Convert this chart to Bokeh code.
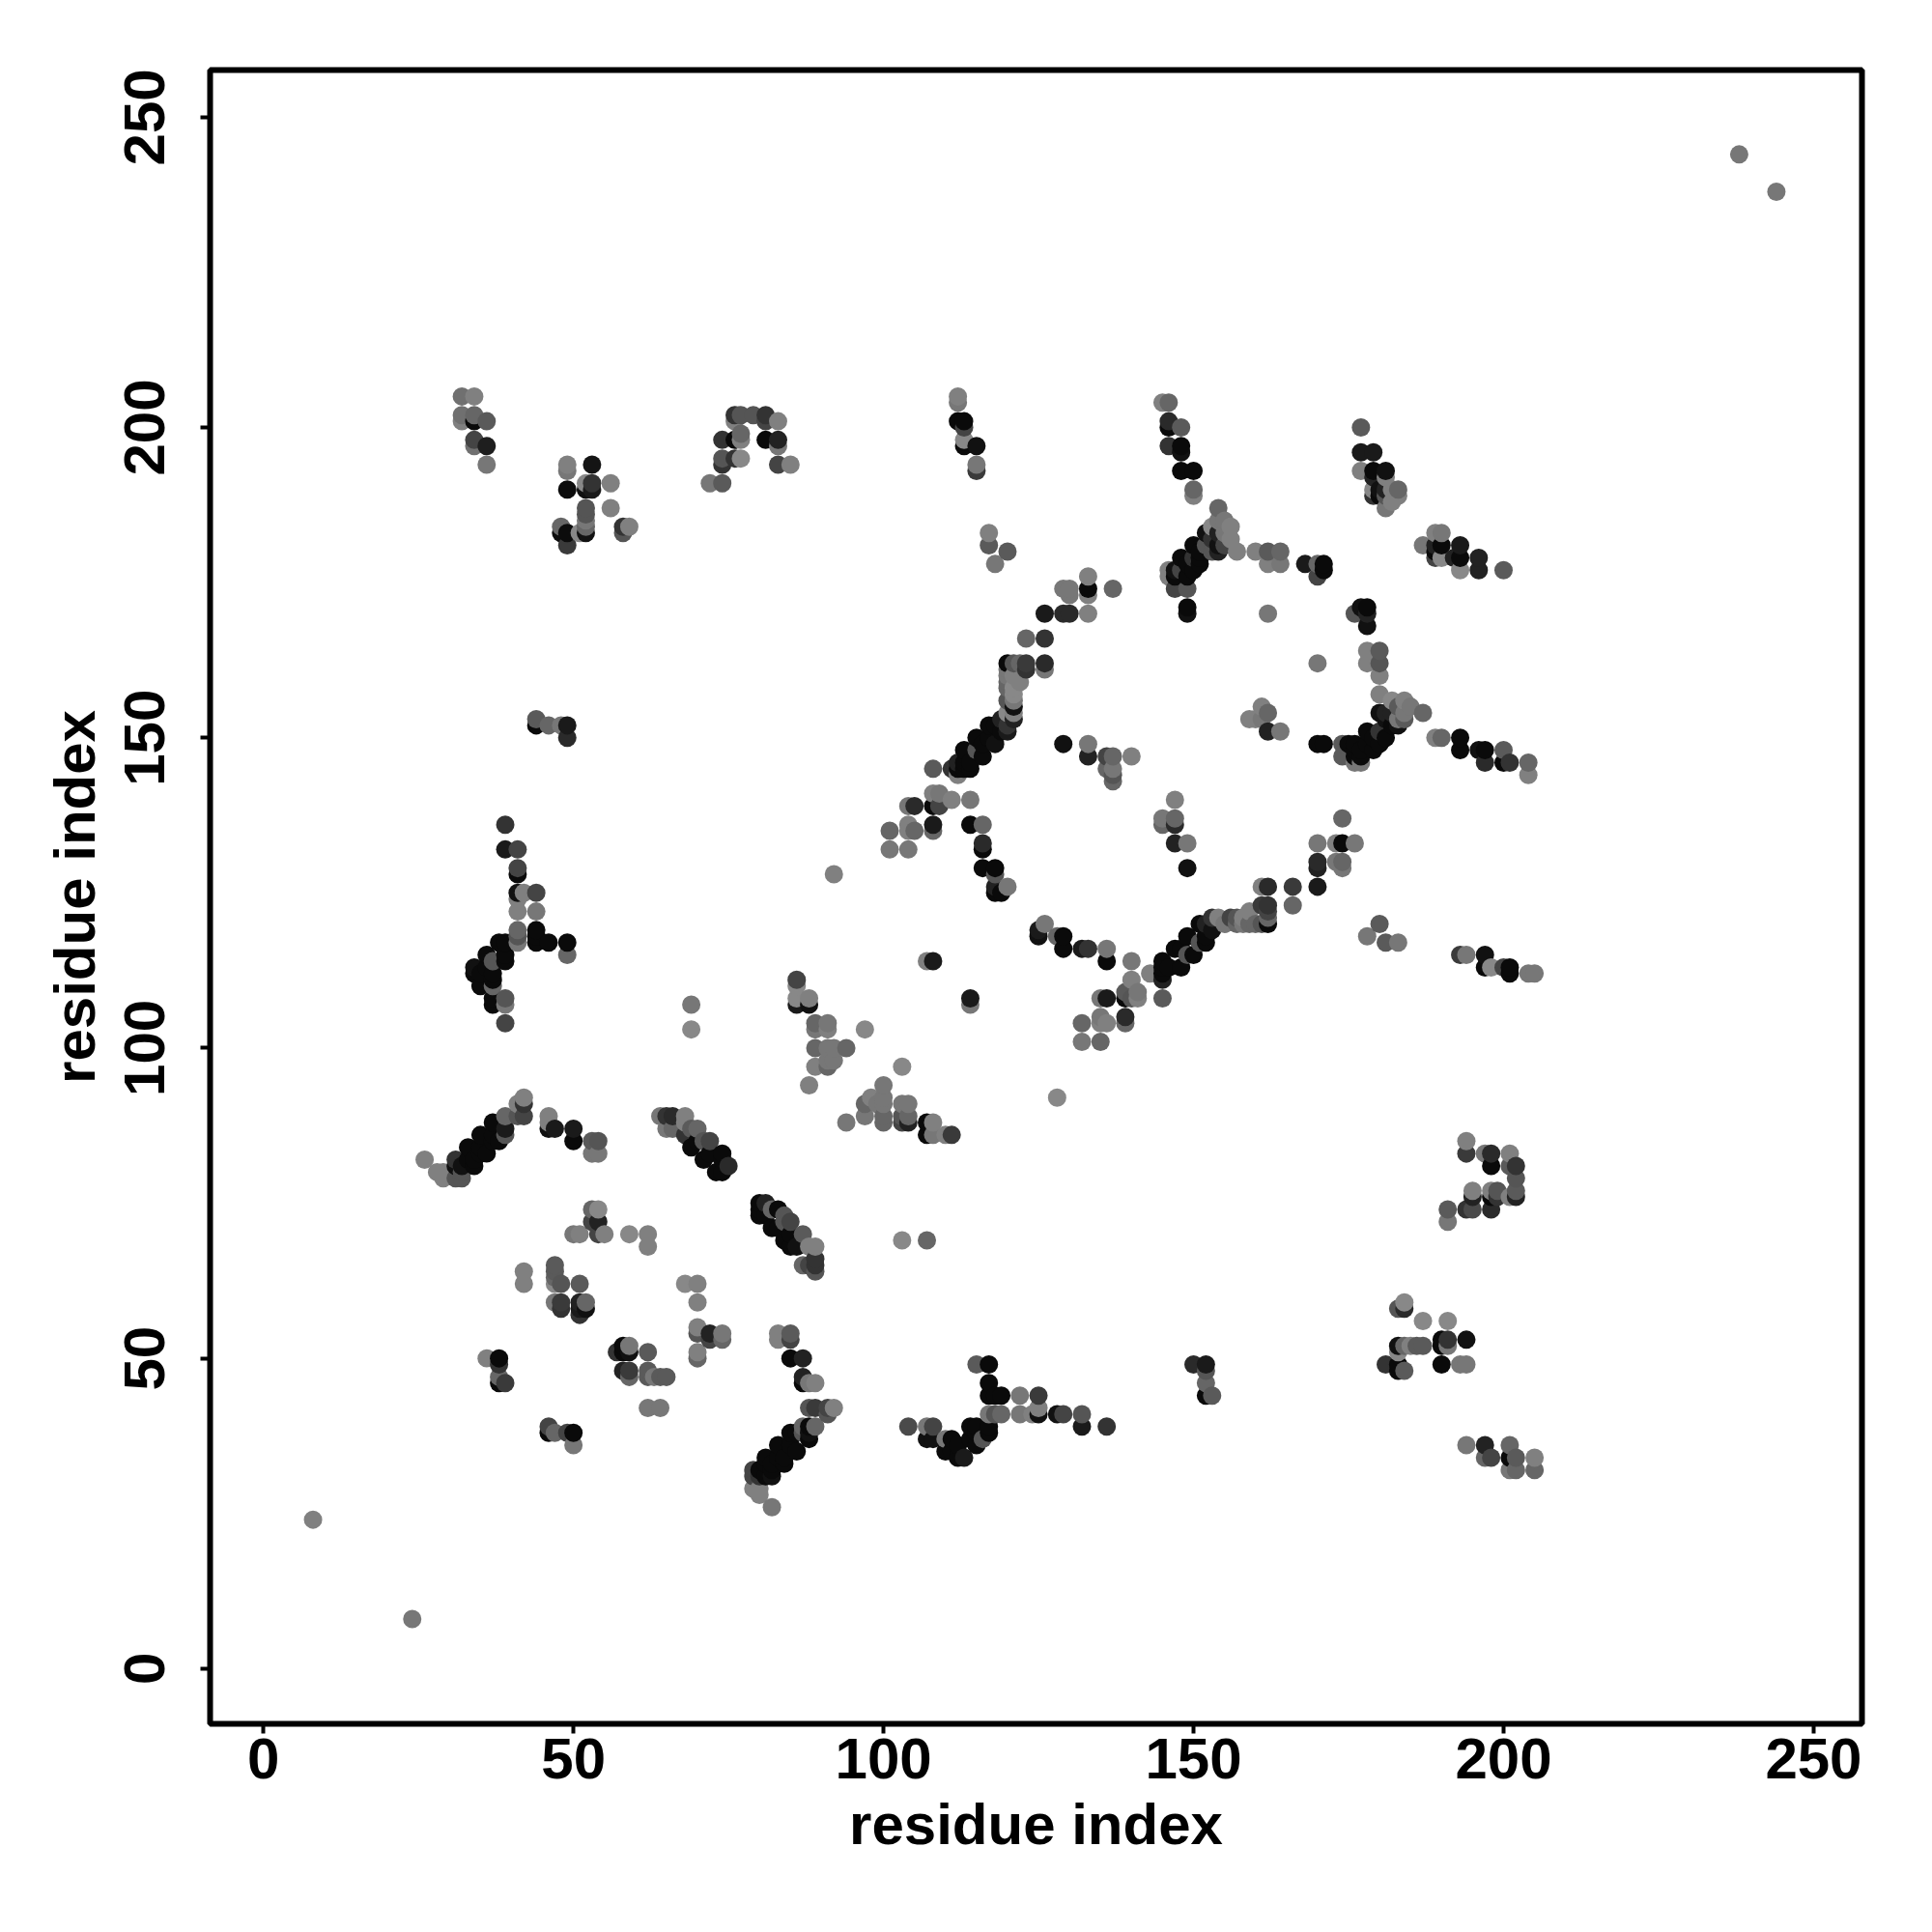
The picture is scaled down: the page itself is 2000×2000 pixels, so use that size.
from bokeh.plotting import figure
from bokeh.models import ColumnDataSource, FixedTicker
from bokeh.embed import file_html
from bokeh.resources import INLINE

# (residue i, residue j, grey level)
isolated = [(8,24,128),(24,8,119),(238,244,119),(244,238,119),(92,128,128),(128,92,136),(69,107,119),(69,103,136),(97,103,136),(103,97,136),(103,69,136),(107,69,102)]
top_a = [(32,205,112),(34,205,128),(32,202,112),(32,201,128),(34,202,102),(34,201,10),(36,201,90),(34,198,68),(34,197,112),(36,197,30),(36,194,119),
 (49,194,128),(49,193,119),(53,194,20),(49,190,12),(52,191,136),(52,190,17),(53,191,51),(53,190,26),(56,191,128),(56,187,128),
 (52,187,85),(52,186,85),(52,185,119),(52,184,102),(52,183,17),(51,183,136),(48,184,102),(48,183,12),(49,183,12),(49,181,58),(58,184,51),(58,183,85),(59,184,128),
 (76,202,51),(77,202,85),(79,202,85),(81,202,51),(81,201,68),(83,201,128),(76,201,128),(74,198,51),(76,198,10),(77,199,102),(77,198,128),(81,198,10),(83,198,34),(83,197,119),
 (74,195,85),(74,194,51),(76,195,51),(77,195,136),(83,194,68),(85,194,128),(72,191,119),(74,191,90),
 (44,153,90),(44,152,10),(46,152,102),(48,152,119),(49,152,26),(49,150,42)]
top_b = [(112,205,128),(112,204,119),(112,201,10),(113,201,10),(113,200,68),(113,198,136),(113,197,10),(115,197,17),(115,194,119),(115,193,58),
 (117,183,128),(117,181,90),(120,180,90),(118,178,119),
 (133,176,128),(133,174,10),(133,173,128),(129,174,119),(130,174,119),(130,173,119),(137,174,102),
 (126,170,26),(129,170,42),(130,170,42),(133,170,128),(123,166,102),(126,166,51),(126,162,42),(126,161,119),
 (120,162,10),(121,162,85),(122,162,102),(123,162,58),(123,161,51),(120,161,119),(120,160,119),(121,160,128),(122,159,128),(120,159,102),(120,158,102),(121,158,136),
 (120,156,85),(121,157,136),(121,156,119),(121,155,17),(121,154,128),(120,154,136),(121,153,34),(119,153,34),(120,152,51),(120,151,26),
 (117,152,10),(118,152,10),(119,151,10),(118,149,17),(115,150,10),(117,150,10),(116,149,10),(116,147,10),(113,148,10),(115,148,85),
 (114,146,10),(113,146,10),(112,146,34),(111,145,51),(112,145,10),(113,145,10),(114,145,10),(108,145,90),(112,144,128),
 (129,149,17),(133,149,119),(133,147,34),(136,147,68),(137,147,102),(136,145,102),(137,145,119),(137,144,85),(137,143,102),(140,147,128)]
top_c = [(145,204,128),(146,204,102),(146,201,42),(146,200,10),(148,200,90),(146,197,51),(148,197,10),(148,196,17),(148,193,10),(150,193,10),(150,190,102),(150,189,128),
 (154,187,102),(155,185,119),(156,184,128),(156,182,128),(157,180,128),
 (153,184,136),(154,185,119),(152,183,17),(154,183,34),(153,182,51),(155,183,119),(154,181,17),(155,181,68),(152,181,85),(150,181,10),(151,180,10),(153,180,85),(154,180,34),
 (148,179,10),(150,179,51),(151,179,10),(149,178,10),(151,178,10),(147,177,17),(148,177,68),(150,177,10),(146,177,128),(146,176,128),(147,176,10),(149,176,10),
 (147,174,68),(149,174,85),(149,171,10),(149,170,17),
 (160,180,128),(162,180,90),(164,180,102),(162,178,128),(164,178,119),(168,178,26),(170,178,102),(171,178,10),(171,177,10),(170,176,68),(162,170,119),
 (177,200,90),(177,196,26),(179,196,26),(177,193,128),(179,193,10),(181,193,17),(179,192,34),(181,192,128),(179,190,136),(179,189,51),(180,189,10),(181,190,34),(183,190,102),(183,189,128),(182,190,128),(181,189,85),(182,188,128),(181,187,119),(180,190,17),
 (187,181,119),(189,183,128),(190,183,119),(189,181,34),(190,181,10),(189,180,10),(190,179,136),(189,179,68),(193,181,26),(192,179,34),(193,179,10),(193,177,136),(196,179,34),(196,177,34),(200,177,90)]
mid_right = [(177,171,17),(176,170,85),(178,171,10),(178,170,34),(178,168,17),(170,162,119),
 (178,164,128),(180,164,90),(178,162,128),(180,162,85),(180,160,128),
 (180,157,128),(182,156,136),(184,156,128),(185,155,119),(187,154,102),(183,155,90),(184,154,119),(182,154,34),(180,154,17),(181,154,34),(183,153,119),(184,153,90),(181,153,17),
 (182,152,10),(183,152,17),(178,151,10),(180,151,51),(181,150,10),(179,150,10),(180,149,10),(178,149,10),(176,149,10),(175,149,10),(179,148,10),(177,148,10),(176,148,10),(174,149,90),(174,147,90),(176,147,10),(177,147,10),(177,146,119),(176,146,119),(170,149,10),(171,149,10),
 (159,153,128),(160,153,128),(161,155,128),(162,154,102),(161,153,119),(162,151,34),(164,151,119),
 (189,150,128),(190,150,102),(193,150,10),(193,148,10),(196,148,17),(197,148,10),(200,148,90),(197,146,42),(200,146,10),(201,146,51),(204,146,102),(204,144,128)]
left_arm = [(39,136,51),(39,132,26),(41,132,68),(41,129,68),(41,128,10),(41,125,17),(42,125,128),(44,125,68),(41,124,128),(41,122,128),(44,122,119),
 (41,119,102),(41,118,85),(41,117,119),(44,119,10),(44,118,10),(44,117,10),(46,117,10),(49,117,10),(49,115,102),
 (38,117,10),(39,117,10),(36,115,10),(39,115,10),(39,114,10),(37,114,85),(34,113,17),(36,113,10),(34,112,10),(35,112,10),(37,112,10),(35,110,10),(37,111,10),(37,110,102),
 (37,108,10),(37,107,10),(39,108,85),(39,107,119),(39,104,68),
 (86,111,68),(86,110,136),(86,108,136),(86,107,26),(88,108,128),(88,107,17)]
strand_a = [(26,82,128),(28,80,128),(29,80,128),(29,79,128),(31,82,51),(31,81,17),(31,79,85),(32,79,85),(32,81,17),(32,80,85),(33,84,10),(33,82,10),(34,82,10),(34,81,10),
 (35,86,10),(35,84,10),(35,83,10),(36,83,10),(37,88,10),(37,86,10),(37,85,10),(38,85,10),(39,89,102),(39,87,26),(39,86,85),(41,91,128),(41,89,85),(42,92,128),(42,91,51),(42,89,68),
 (46,89,128),(46,88,128),(46,87,17),(47,87,26),(50,87,26),(50,85,10),(53,85,90),(54,85,85),(53,83,119),(54,83,119)]
strand_b = [(64,89,119),(65,89,51),(66,89,42),(65,87,119),(66,87,102),(68,89,128),(68,88,128),(68,86,51),(69,87,90),(70,87,102),(69,84,10),(70,85,10),(72,85,68),(71,85,85),(71,82,10),(72,83,10),(74,83,10),(74,82,10),(73,80,10),(74,80,10),(75,81,42)]
lower_left = [(54,74,136),(53,74,102),(53,72,68),(54,72,34),(50,70,119),(51,70,128),(54,70,68),(55,70,128),(59,70,136),(62,70,128),(62,68,128),
 (42,64,128),(42,62,128),(47,65,90),(47,64,90),(47,63,102),(47,62,136),(48,62,85),(51,62,90),(47,59,119),(48,59,58),(48,58,51),(51,59,34),(51,58,26),(52,59,102),(52,58,17),(51,57,51),
 (68,62,136),(70,62,128),(70,59,128),(70,55,128),(70,54,85),(72,54,34),(72,53,68),(74,54,119),(74,53,102),(70,51,128),(70,50,102),
 (83,54,128),(83,53,128),(85,54,90),(85,53,68),(85,50,10),(87,50,34),(87,47,34),(87,46,10),(88,46,119),(89,46,128),
 (57,51,51),(58,52,10),(59,52,119),(58,51,10),(59,51,17),(62,51,90),(58,48,34),(59,48,58),(59,47,102),(62,48,90),(62,47,90),(63,47,119),(64,47,90),(65,47,90),
 (62,42,119),(64,42,119),(36,50,128),(38,50,10),(38,49,51),(38,47,102),(38,46,10),(39,46,58),
 (46,39,68),(46,38,10),(47,38,102),(49,38,68),(50,38,10),(50,36,119)]
strand_c = [(80,75,10),(81,75,34),(80,74,10),(80,73,10),(81,73,10),(82,74,102),(83,74,10),(82,71,10),(83,71,10),(84,73,85),(84,72,85),(85,72,68),(84,69,10),(85,70,10),(87,70,90),(85,68,10),(86,68,17),(88,68,128),(89,68,128),(87,65,102),(88,65,68),(89,66,51),(89,65,51),(89,64,85)]
strand_d = [(88,42,85),(88,39,10),(87,39,102),(85,38,10),(86,38,10),(87,38,85),(88,38,17),(83,36,10),(85,36,10),(86,35,10),(81,34,10),(83,34,10),(84,34,10),(84,33,10),(82,33,10),(81,33,10),(80,32,10),(82,32,10),(79,32,68),(79,31,68),(80,31,51),(81,31,10),(82,31,17),(79,29,128),(80,29,128),(80,28,128),(82,26,119),(88,37,10),
 (89,42,58),(91,42,68),(92,42,128),(91,41,85),(89,39,102)]
bottom_mid = [(104,39,74),(107,39,119),(108,39,68),(107,37,17),(108,37,17),(110,37,119),(111,37,10),(110,35,10),(111,35,10),(112,36,10),(113,34,26),(112,34,10),(114,39,10),(115,39,10),(114,37,10),(116,37,85),(115,36,10),(117,38,10),(115,38,10),(117,39,10),
 (115,49,90),(117,49,10),(117,46,10),(117,44,10),(118,44,10),(119,44,10),(122,44,119),(125,44,58),(117,41,119),(118,41,85),(119,41,102),(122,41,119),(124,41,128),(125,42,128),(125,41,17),(128,41,17),(129,41,68),(132,41,85),(132,39,26),(136,39,51),
 (150,49,42),(152,49,26),(152,48,85),(152,46,102),(152,44,10),(153,44,90)]
lower_right = [(183,58,85),(184,58,42),(184,59,136),(187,56,136),(191,56,136),(194,53,17),(190,53,10),(191,53,51),(191,52,119),(190,52,10),
 (183,52,17),(184,52,102),(185,52,128),(186,52,90),(187,52,90),(183,51,136),(181,49,51),(183,49,10),(183,48,10),(184,48,90),(190,49,10),(193,49,119),(194,49,119),
 (194,36,119),(197,36,34),(197,34,102),(198,34,68),(201,36,102),(201,34,10),(202,34,90),(201,32,119),(202,32,102),(205,34,128),(205,32,102),
 (191,74,90),(191,72,119),(194,74,51),(195,74,74),(195,77,128),(195,76,34),(198,77,128),(199,77,85),(198,76,10),(199,76,51),(198,74,42),(201,76,128),(202,77,90),(202,76,34),(202,79,85),(202,81,51),(201,81,90),
 (194,85,128),(194,83,58),(197,83,119),(198,83,42),(198,81,10),(201,83,128)]
ring = [(147,140,128),(145,137,119),(147,137,102),(147,136,42),(145,136,102),(147,133,34),(149,133,119),(149,129,17),
 (161,126,128),(162,126,42),(166,126,58),(166,123,102),(170,133,119),(170,130,42),(170,129,34),(170,126,26),(173,133,128),(174,133,10),(176,133,119),(174,137,102),(173,130,119),(174,130,102),(174,129,119),
 (162,123,51),(161,123,58),(162,122,68),(162,121,102),(162,120,10),(161,120,85),(160,120,102),(159,122,128),(159,120,102),(158,121,128),(157,121,85),(156,121,68),(158,120,119),(157,120,102),(154,121,128),(155,120,119),(153,121,51),(151,120,10),(152,120,34),(153,119,17),(152,118,10),(151,117,85),(149,118,10),(152,117,10),(148,116,10),(147,116,10),(150,115,10),(149,115,85),(148,113,10),(146,113,10),(145,114,10),(145,113,10),(145,112,10),(145,111,34),(145,108,90),
 (180,120,90),(178,118,119),(181,117,90),(183,117,119),(193,115,58),(194,115,119),(197,115,17),(197,113,10),(198,113,136),(200,113,68),(201,113,10),(201,112,10),(204,112,119),(205,112,119)]
center = [(104,139,119),(105,139,42),(108,141,128),(109,141,119),(108,139,10),(109,139,68),(111,140,128),(114,140,119),(101,135,102),(104,136,128),(104,135,128),(105,135,102),(108,136,26),(108,135,102),(101,132,119),(104,132,119),
 (114,136,10),(116,136,102),(116,133,42),(116,132,10),(116,129,10),(118,129,10),(118,128,85),(118,126,34),(120,126,119),(118,125,10),(119,125,10),
 (126,120,119),(125,119,26),(125,118,17),(128,118,102),(129,118,10),(129,116,10),(132,116,26),(133,116,51),(136,116,119),(136,114,10),(140,114,119),(140,111,128),(143,112,128),
 (135,108,119),(136,108,26),(139,109,90),(139,108,10),(141,109,119),(141,108,128),(140,108,85),(132,104,102),(135,105,119),(135,104,128),(136,104,128),(139,105,42),(139,104,102),(132,101,119),(135,101,102),
 (107,114,128),(108,114,26),(114,108,26),(114,107,119),
 (91,104,119),(89,104,102),(91,103,128),(89,103,119),(89,100,102),(91,100,119),(92,100,119),(94,100,102),(91,98,119),(92,98,119),(89,97,128),(91,97,102),(88,94,128),
 (100,94,119),(98,92,128),(100,92,119),(97,91,102),(99,91,119),(100,91,119),(103,91,119),(104,91,119),(97,89,119),(100,89,102),(100,88,102),(94,88,119),(103,89,85),(104,89,102),(103,88,68),(104,88,34),(107,88,10),(108,88,128),(107,86,10),(108,86,119),(110,86,128),(111,86,58)]

x_ticks = [0, 50, 100, 150, 200, 250]
y_ticks = [0, 50, 100, 150, 200, 250]
x_title = "residue index"
y_title = "residue index"

merged = {}
for group in (isolated, top_a, top_b, top_c, mid_right, left_arm, strand_a, strand_b, lower_left, strand_c, strand_d, bottom_mid, lower_right, ring, center):
    for i, j, g in group:
        merged[(i, j)] = g
keys = sorted(merged)
source = ColumnDataSource(dict(
    x=[k[0] for k in keys],
    y=[k[1] for k in keys],
    c=["#%02x%02x%02x" % (merged[k], merged[k], merged[k]) for k in keys],
))

p = figure(frame_width=1710, frame_height=1712, x_range=(-8.6, 257.8), y_range=(-8.9, 257.6),
           output_backend="svg", toolbar_location=None,
           min_border_left=217, min_border_right=57, min_border_top=72, min_border_bottom=200,
           background_fill_color="white", border_fill_color="white")
p.scatter("x", "y", source=source, size=19, fill_color="c", line_color=None)

p.grid.visible = False
p.outline_line_color = "black"
p.outline_line_width = 6
for ax, ticks, title in ((p.xaxis[0], x_ticks, x_title), (p.yaxis[0], y_ticks, y_title)):
    ax.ticker = FixedTicker(ticks=ticks)
    ax.axis_label = title
    ax.axis_label_text_font = "Liberation Sans"
    ax.axis_label_text_font_style = "bold"
    ax.axis_label_text_font_size = "60px"
    ax.axis_label_text_color = "black"
    ax.major_label_text_font = "Liberation Sans"
    ax.major_label_text_font_style = "bold"
    ax.major_label_text_font_size = "60px"
    ax.major_label_text_color = "black"
    ax.minor_tick_line_color = None
    ax.major_tick_line_width = 4
    ax.major_tick_line_color = "black"
    ax.major_tick_out = 10
    ax.major_tick_in = 0
    ax.axis_line_color = None
p.xaxis[0].major_label_standoff = 5
p.xaxis[0].axis_label_standoff = 11
p.yaxis[0].major_label_standoff = 37
p.yaxis[0].axis_label_standoff = 16
p.yaxis[0].major_label_orientation = "vertical"

open("out.html", "w").write(file_html(p, INLINE))
